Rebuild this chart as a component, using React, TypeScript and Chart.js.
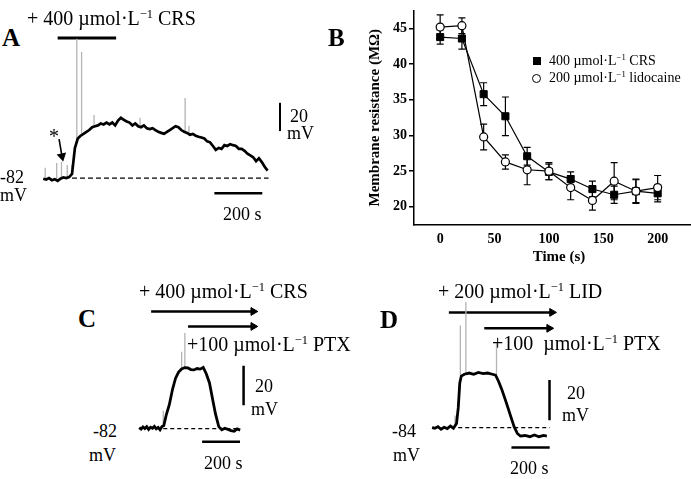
import React, { useEffect, useRef } from 'react';
import { Chart, registerables } from 'chart.js';

Chart.register(...registerables);

const SERIF = "'Liberation Serif', 'Times New Roman', 'DejaVu Serif', serif";

// ---------------- Panel B: membrane resistance (MΩ) vs time (s)
const B_TIME = [0, 20, 40, 60, 80, 100, 120, 140, 160, 180, 200];
const B_CRS_MEAN = [43.8, 43.6, 35.8, 32.7, 27.1, 24.9, 23.9, 22.5, 21.7, 22.2, 21.9];
const B_CRS_ERR = [1.0, 1.5, 1.6, 2.7, 1.25, 1.1, 1.0, 1.1, 1.2, 1.6, 1.2];
const B_LID_MEAN = [45.2, 45.4, 29.8, 26.3, 25.2, 25.0, 22.7, 20.9, 23.6, 22.2, 22.7];
const B_LID_ERR = [1.7, 1.1, 1.8, 1.0, 2.1, 1.2, 1.7, 1.35, 2.6, 1.7, 1.7];
const B_X_TICKS = [0, 50, 100, 150, 200];
const B_Y_TICKS = [20, 25, 30, 35, 40, 45];

// ---------------- Panel A: membrane potential trace, + 400 µmol/L CRS
const A_TIME = [
  0, 12, 24, 36, 48, 60, 72, 84, 96, 108, 120, 132, 144, 156, 168, 180, 192, 204, 216, 228,
  240, 252, 264, 276, 288, 300, 312, 324, 336, 348, 360, 372, 384, 396, 408, 420, 432, 444, 456, 468,
  480, 492, 504, 516, 528, 540, 552, 564, 576, 588, 600, 612, 624, 636, 648, 660, 672, 684, 696, 708,
  720, 732, 744, 756, 768, 780, 792, 804, 816, 828, 840, 852, 864, 876, 888, 900, 912, 924, 936,
];
const A_VM = [
  -82.5, -83, -82, -83.5, -82.8, -84, -82.5, -81.5, -82, -81.3,
  -79, -60.7, -54, -52, -50.7, -49.3, -48, -46, -45.3, -44.7,
  -43.3, -44, -42.7, -44, -42.7, -44.7, -41.3, -39.3, -40.7, -42,
  -42.7, -44.7, -43.3, -45.3, -46, -44.7, -46.7, -47.3, -46.7, -48,
  -49.3, -50, -50.7, -49.3, -48, -46.7, -45.3, -46, -48, -49.3,
  -50, -51.3, -50.7, -52, -52.7, -53.3, -54, -56, -56.7, -59.3,
  -62, -60.7, -61.3, -58.7, -59.3, -58, -58.7, -59.3, -61.3, -61.3,
  -62.7, -64.7, -66, -67.3, -70, -68, -70.7, -74, -76.7,
];
const A_SPIKE_T = [8, 56, 76, 100, 120, 140, 160, 212, 404, 592, 608];
const A_SPIKE_BASE = [-82.5, -84, -81.5, -82, -79, -56, -52, -45, -46, -49.3, -50];
const A_SPIKE_PEAK = [-74.7, -71.3, -70.7, -72.7, -72.7, 16.7, 7.3, -37.3, -39.3, -25.3, -45];

// ---------------- Panel C: + 400 µmol/L CRS, then + 100 µmol/L PTX
const C_TIME = [
  0, 10, 20, 30, 40, 50, 60, 70, 80, 90, 100, 110, 120, 130, 143, 159, 176, 192, 208, 224,
  240, 257, 273, 289, 305, 322, 338, 354, 371, 387, 403, 420, 436, 452, 468, 485, 501, 517, 533,
];
const C_VM = [
  -81.5, -82.3, -81.2, -82.0, -81.0, -82.4, -81.3, -81.8, -80.9, -82.1,
  -81.4, -82.6, -81.0, -80.5, -75, -69.9, -62, -56.4, -53.3, -51.7,
  -51.0, -51.2, -52.0, -52.2, -51.5, -51.8, -50.9, -54.1, -58.8, -66.8,
  -74.7, -81.0, -82.6, -81.8, -82.4, -83.0, -83.4, -82.2, -82.8,
];
const C_SPIKE_T = [127, 224, 241];
const C_SPIKE_BASE = [-81, -51.7, -51];
const C_SPIKE_PEAK = [-73, -43, -33.4];

// ---------------- Panel D: + 200 µmol/L LID, then + 100 µmol/L PTX
const D_TIME = [
  0, 15, 31, 47, 63, 80, 96, 112, 128, 137, 145, 153, 169, 194, 218, 242, 267, 291, 315, 332,
  348, 364, 381, 397, 413, 429, 446, 462, 486, 511, 535, 559, 584, 600,
];
const D_VM = [
  -84, -84.3, -83.5, -84.8, -83.8, -84.5, -83.2, -84.3, -82, -74.2,
  -61.8, -58.4, -57.5, -56.9, -57.5, -56.6, -57.2, -56.9, -57.5, -58,
  -61.1, -64.9, -69.6, -74.2, -78.9, -83.5, -86.9, -88.2, -87.9, -88.5,
  -87.6, -88.5, -87.9, -88.2,
];
const D_SPIKE_T = [120, 148, 177, 337];
const D_SPIKE_BASE = [-83, -58, -57, -58];
const D_SPIKE_PEAK = [-78, -33.3, -21.7, -41.7];

// ---------------- helpers
type Pt = { x: number; y: number | null };

const xy = (ts: number[], vs: number[]): Pt[] => ts.map((t, i) => ({ x: t, y: vs[i] }));

const spikes = (ts: number[], base: number[], peak: number[]): Pt[] =>
  ts.flatMap((t, i) => [
    { x: t, y: base[i] },
    { x: t, y: peak[i] },
    { x: t, y: null },
  ]);

const seg = (pts: Pt[], color: string, width: number, extra: any = {}) => ({
  data: pts,
  showLine: true,
  borderColor: color,
  backgroundColor: color,
  borderWidth: width,
  pointRadius: 0,
  pointHoverRadius: 0,
  tension: 0,
  spanGaps: false,
  clip: false,
  ...extra,
});

const arrow = (t0: number, t1: number, v: number, rot = 90, width = 2.5) =>
  seg(
    [
      { x: t0, y: v },
      { x: t1, y: v },
    ],
    '#000',
    width,
    {
      pointRadius: [0, 4.5],
      pointStyle: 'triangle',
      rotation: rot,
      pointBackgroundColor: '#000',
      pointBorderColor: '#000',
      pointBorderWidth: 1,
    }
  );

function ChartCanvas({ left, top, width, height, makeConfig }: any) {
  const ref = useRef<HTMLCanvasElement>(null);
  useEffect(() => {
    const chart = new Chart(ref.current as HTMLCanvasElement, makeConfig());
    return () => chart.destroy();
  }, []);
  return (
    <canvas
      ref={ref}
      width={width}
      height={height}
      style={{ position: 'absolute', left, top, width, height }}
    />
  );
}

function traceConfig(datasets: any[], xMin: number, xMax: number, yMin: number, yMax: number) {
  return {
    type: 'scatter',
    data: { datasets },
    options: {
      responsive: false,
      animation: false,
      events: [],
      layout: { padding: 0 },
      plugins: { legend: { display: false }, tooltip: { enabled: false } },
      scales: {
        x: { type: 'linear', display: false, min: xMin, max: xMax },
        y: { type: 'linear', display: false, min: yMin, max: yMax },
      },
    },
  };
}

const errorBars = {
  id: 'errorBars',
  beforeDatasetsDraw(chart: any) {
    const { ctx, scales } = chart;
    const x = scales.x;
    const y = scales.y;
    ctx.save();
    ctx.strokeStyle = '#000';
    ctx.lineWidth = 1.2;
    const series = [
      { mean: B_CRS_MEAN, err: B_CRS_ERR },
      { mean: B_LID_MEAN, err: B_LID_ERR },
    ];
    series.forEach((s) => {
      s.mean.forEach((m, i) => {
        const px = x.getPixelForValue(B_TIME[i]);
        const top = y.getPixelForValue(m + s.err[i]);
        const bot = y.getPixelForValue(m - s.err[i]);
        ctx.beginPath();
        ctx.moveTo(px, top);
        ctx.lineTo(px, bot);
        ctx.moveTo(px - 3.5, top);
        ctx.lineTo(px + 3.5, top);
        ctx.moveTo(px - 3.5, bot);
        ctx.lineTo(px + 3.5, bot);
        ctx.stroke();
      });
    });
    ctx.restore();
  },
};

function configB() {
  const tickFont = { family: SERIF, size: 14, weight: 'bold' as const };
  return {
    type: 'scatter',
    data: {
      datasets: [
        {
          label: '400 µmol·L⁻¹ CRS',
          data: xy(B_TIME, B_CRS_MEAN),
          showLine: true,
          borderColor: '#000',
          borderWidth: 1.2,
          pointStyle: 'rect',
          pointRadius: 5,
          pointBackgroundColor: '#000',
          pointBorderColor: '#000',
          pointBorderWidth: 1,
          order: 1,
          clip: false,
        },
        {
          label: '200 µmol·L⁻¹ lidocaine',
          data: xy(B_TIME, B_LID_MEAN),
          showLine: true,
          borderColor: '#000',
          borderWidth: 1.2,
          pointStyle: 'circle',
          pointRadius: 4,
          pointBackgroundColor: '#fff',
          pointBorderColor: '#000',
          pointBorderWidth: 1.2,
          order: 0,
          clip: false,
        },
      ],
    },
    options: {
      responsive: false,
      animation: false,
      events: [],
      layout: { padding: 0 },
      plugins: { legend: { display: false }, tooltip: { enabled: false } },
      scales: {
        x: {
          type: 'linear',
          min: -24.05,
          max: 242.6,
          afterFit: (s: any) => {
            s.height = 45;
          },
          afterBuildTicks: (s: any) => {
            s.ticks = B_X_TICKS.map((v) => ({ value: v }));
          },
          grid: { display: false, drawTicks: false },
          border: { display: true, color: '#000', width: 1.5 },
          ticks: { font: tickFont, color: '#000', padding: 6, maxRotation: 0 },
          title: {
            display: true,
            text: 'Time (s)',
            color: '#000',
            font: { family: SERIF, size: 15, weight: 'bold' },
            padding: { top: 0, bottom: 4 },
          },
        },
        y: {
          type: 'linear',
          min: 17.46,
          max: 47.54,
          afterFit: (s: any) => {
            s.width = 74;
          },
          afterBuildTicks: (s: any) => {
            s.ticks = B_Y_TICKS.map((v) => ({ value: v }));
          },
          grid: {
            display: true,
            drawOnChartArea: false,
            drawTicks: true,
            tickLength: 5,
            color: '#000',
            lineWidth: 1.5,
          },
          border: { display: true, color: '#000', width: 1.5 },
          ticks: { font: tickFont, color: '#000', padding: 2 },
          title: {
            display: true,
            text: 'Membrane resistance (MΩ)',
            color: '#000',
            font: { family: SERIF, size: 15, weight: 'bold' },
            padding: { top: 26, bottom: 0 },
          },
        },
      },
    },
    plugins: [errorBars],
  };
}

function configA() {
  const W = 270;
  const H = 190;
  const xMin = -32;
  const xMax = xMin + W / 0.25;
  const yMax = 26;
  const yMin = yMax - H / 1.5;
  const datasets = [
    seg(xy(A_TIME, A_VM), '#000', 2.7),
    seg(spikes(A_SPIKE_T, A_SPIKE_BASE, A_SPIKE_PEAK), '#b4b4b4', 1.3),
    seg([{ x: 120, y: -82 }, { x: 940, y: -82 }], '#000', 1.2, { borderDash: [5, 3] }),
    seg([{ x: 60, y: 17.3 }, { x: 304, y: 17.3 }], '#000', 3),
    seg([{ x: 988, y: -48.7 }, { x: 988, y: -28.7 }], '#000', 2),
    seg([{ x: 714, y: -92.7 }, { x: 914, y: -92.7 }], '#000', 2.5),
    seg(
      [
        { x: 66, y: -54.5 },
        { x: 78, y: -66.5 },
      ],
      '#000',
      1.6,
      {
        pointRadius: [0, 4],
        pointStyle: 'triangle',
        rotation: 168,
        pointBackgroundColor: '#000',
        pointBorderColor: '#000',
      }
    ),
  ];
  return traceConfig(datasets, xMin, xMax, yMin, yMax);
}

function configC() {
  const W = 145;
  const H = 175;
  const xMin = -4 / 0.205;
  const xMax = xMin + W / 0.205;
  const yMax = -82 + 142 / 2.1;
  const yMin = yMax - H / 2.1;
  const datasets = [
    seg(xy(C_TIME, C_VM), '#000', 2.8),
    seg(spikes(C_SPIKE_T, C_SPIKE_BASE, C_SPIKE_PEAK), '#b4b4b4', 1.3),
    seg([{ x: 127, y: -82 }, { x: 532, y: -82 }], '#000', 1.2, { borderDash: [4, 3] }),
    seg([{ x: 551, y: -50.1 }, { x: 551, y: -70.1 }], '#000', 2.5),
    seg([{ x: 332, y: -88.7 }, { x: 532, y: -88.7 }], '#000', 2.5),
    arrow(63, 602, -22.5),
    arrow(258, 602, -30.1),
  ];
  return traceConfig(datasets, xMin, xMax, yMin, yMax);
}

function configD() {
  const W = 165;
  const H = 175;
  const xMin = -7 / 0.205;
  const xMax = xMin + W / 0.205;
  const yMax = -84 + 141 / 2.15;
  const yMin = yMax - H / 2.15;
  const datasets = [
    seg(xy(D_TIME, D_VM), '#000', 2.8),
    seg(spikes(D_SPIKE_T, D_SPIKE_BASE, D_SPIKE_PEAK), '#b4b4b4', 1.3),
    seg([{ x: 137, y: -84 }, { x: 615, y: -84 }], '#000', 1.2, { borderDash: [4, 3] }),
    seg([{ x: 614, y: -60.3 }, { x: 614, y: -80.3 }], '#000', 2.5),
    seg([{ x: 415, y: -93.8 }, { x: 615, y: -93.8 }], '#000', 2.5),
    arrow(88, 627, -26.8),
    arrow(273, 612, -34.7),
  ];
  return traceConfig(datasets, xMin, xMax, yMin, yMax);
}

function Label({ x, y, size = 18, bold = false, sx = 1, children }: any) {
  return (
    <div
      style={{
        position: 'absolute',
        left: x,
        top: y,
        transform: `translateY(-50%) scaleX(${sx})`,
        transformOrigin: 'left center',
        fontFamily: SERIF,
        fontSize: size,
        fontWeight: bold ? 700 : 400,
        lineHeight: 1,
        whiteSpace: 'pre',
        color: '#000',
        zIndex: 5,
      }}
    >
      {children}
    </div>
  );
}

const Sup = ({ children }: any) => (
  <sup style={{ fontSize: '0.62em', lineHeight: 0, verticalAlign: '0.6em' }}>{children}</sup>
);

export default function App() {
  return (
    <div
      style={{
        position: 'absolute',
        left: 0,
        top: 0,
        width: 691,
        height: 479,
        overflow: 'hidden',
        background: '#fff',
      }}
    >
      <ChartCanvas left={30} top={20} width={270} height={190} makeConfig={configA} />
      <ChartCanvas left={340} top={0} width={370} height={270} makeConfig={configB} />
      <ChartCanvas left={130} top={290} width={145} height={175} makeConfig={configC} />
      <ChartCanvas left={420} top={290} width={165} height={175} makeConfig={configD} />

      {/* Panel A */}
      <Label x={2} y={37} size={25} bold>A</Label>
      <Label x={27} y={18} size={20}>
        + 400 µmol·L<Sup>−1</Sup> CRS
      </Label>
      <Label x={49} y={136} size={20}>*</Label>
      <Label x={0} y={177} size={18}>-82</Label>
      <Label x={0} y={195} size={18}>mV</Label>
      <Label x={290} y={116} size={18}>20</Label>
      <Label x={287} y={133} size={18}>mV</Label>
      <Label x={223} y={214} size={18}>200 s</Label>

      {/* Panel B */}
      <Label x={328} y={37} size={25} bold>B</Label>
      <div
        style={{ position: 'absolute', left: 533, top: 57, width: 8, height: 8, background: '#000' }}
      />
      <Label x={549} y={61} size={14}>
        400 µmol·L<Sup>−1</Sup> CRS
      </Label>
      <div
        style={{
          position: 'absolute',
          left: 532,
          top: 73.5,
          width: 9,
          height: 9,
          borderRadius: '50%',
          border: '1.3px solid #000',
          boxSizing: 'border-box',
          background: '#fff',
        }}
      />
      <Label x={549} y={78} size={14}>
        200 µmol·L<Sup>−1</Sup> lidocaine
      </Label>

      {/* Panel C */}
      <Label x={78} y={318} size={25} bold>C</Label>
      <Label x={139} y={291} size={20}>
        + 400 µmol·L<Sup>−1</Sup> CRS
      </Label>
      <Label x={187} y={344} size={20}>
        +100 µmol·L<Sup>−1</Sup> PTX
      </Label>
      <Label x={93} y={431} size={18}>-82</Label>
      <Label x={89} y={455} size={18}>mV</Label>
      <Label x={255} y={386} size={18}>20</Label>
      <Label x={251} y={409} size={18}>mV</Label>
      <Label x={204} y={463} size={18}>200 s</Label>

      {/* Panel D */}
      <Label x={380} y={319} size={25} bold>D</Label>
      <Label x={438} y={291} size={20}>
        + 200 µmol·L<Sup>−1</Sup> LID
      </Label>
      <Label x={492} y={343} size={20}>
        +100  µmol·L<Sup>−1</Sup> PTX
      </Label>
      <Label x={392} y={431} size={18}>-84</Label>
      <Label x={393} y={455} size={18}>mV</Label>
      <Label x={567} y={393} size={18}>20</Label>
      <Label x={562} y={415} size={18}>mV</Label>
      <Label x={510} y={468} size={18}>200 s</Label>
    </div>
  );
}
